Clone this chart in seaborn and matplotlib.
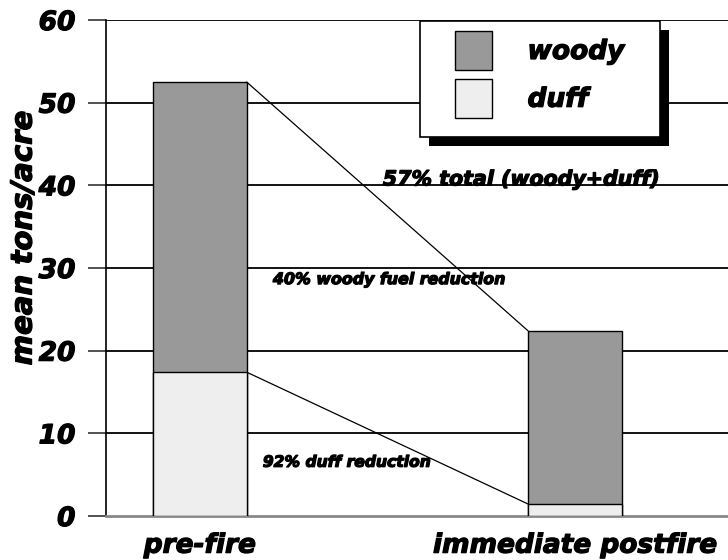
import matplotlib
matplotlib.use("Agg")
import matplotlib.pyplot as plt
from matplotlib.patches import Rectangle, Patch
import matplotlib.patheffects as pe
import seaborn as sns
import pandas as pd

# Fuel loading before and right after the burn (mean tons/acre)
stages = ["pre-fire", "immediate postfire"]
duff = [17.4, 1.45]
woody = [35.1, 20.95]
totals = [d + w for d, w in zip(duff, woody)]

woody_color = "#999999"
duff_color = "#eeeeee"

sns.set_theme(style="white")
plt.rcParams["font.family"] = ["DejaVu Sans"]
plt.rcParams.update({"text.color": "black", "axes.labelcolor": "black",
                     "xtick.color": "black", "ytick.color": "black"})

heavy = [pe.withStroke(linewidth=0.9, foreground="black")]

fig = plt.figure(figsize=(7.28, 5.6), dpi=100)
ax = fig.add_axes([106 / 728, 1 - 516 / 560, 1 - 106 / 728, (516 - 20) / 560])

df = pd.DataFrame({"stage": stages, "total": totals, "duff": duff})
bar_w = 0.25
sns.barplot(data=df, x="stage", y="total", color=woody_color, width=bar_w,
            edgecolor="black", linewidth=1, saturation=1, ax=ax, zorder=3)
sns.barplot(data=df, x="stage", y="duff", color=duff_color, width=bar_w,
            edgecolor="black", linewidth=1, saturation=1, ax=ax, zorder=3)

ax.set_xlim(-0.25, 1.408)
ax.set_ylim(0, 60)

# horizontal rules at each tick
for v in range(10, 61, 10):
    ax.axhline(v, color="black", lw=1.3, zorder=1)

for s in ["top", "right"]:
    ax.spines[s].set_visible(False)
ax.spines["left"].set_color("black")
ax.spines["left"].set_linewidth(1.2)
ax.spines["bottom"].set_color("#888888")
ax.spines["bottom"].set_linewidth(2)

ax.tick_params(axis="y", which="major", direction="out", length=13, width=1.2,
               color="#333333", left=True, pad=9)
ax.tick_params(axis="x", length=0, pad=12)

tick_font = dict(fontsize=19, fontweight="bold", fontstyle="italic")
ax.set_yticks(range(0, 61, 10), [str(v) for v in range(0, 61, 10)], **tick_font)
ax.set_xticks([0, 1], stages, **tick_font)
for t in ax.get_xticklabels() + ax.get_yticklabels():
    t.set_path_effects(heavy)
ax.set_xlabel("")
ax.set_ylabel("mean tons/acre", fontsize=21, fontweight="bold",
              fontstyle="italic", path_effects=heavy)
ax.yaxis.set_label_coords(-0.11, 0.56)

# connector lines between bar tops
half = bar_w / 2
ax.plot([0 + half, 1 - half], [totals[0], totals[1]], color="black", lw=0.9, zorder=2)
ax.plot([0 + half, 1 - half], [duff[0], duff[1]], color="black", lw=0.9, zorder=2)

note = dict(fontweight="bold", fontstyle="italic", color="black", zorder=4,
            path_effects=heavy)
ax.text(0.488, 40.0, "57% total (woody+duff)", fontsize=14.8, va="baseline", **note)
ax.text(0.195, 28.6, "40% woody fuel reduction", fontsize=11.4, va="center", **note)
ax.text(0.168, 6.5, "92% duff reduction", fontsize=11.2, va="center", **note)

# legend box with a solid drop shadow
W, H = 728, 560
lx0, ly0, lx1, ly1 = 420, 21, 660, 137
off = 9
fig.patches.append(Rectangle(((lx0 + off) / W, 1 - (ly1 + off) / H),
                             (lx1 - lx0) / W, (ly1 - ly0) / H,
                             transform=fig.transFigure, facecolor="black",
                             edgecolor="none", zorder=5))
fig.patches.append(Rectangle((lx0 / W, 1 - ly1 / H), (lx1 - lx0) / W, (ly1 - ly0) / H,
                             transform=fig.transFigure, facecolor="white",
                             edgecolor="black", lw=1.2, zorder=6))
handles = [Patch(facecolor=woody_color, edgecolor="black", lw=1, label="woody"),
           Patch(facecolor=duff_color, edgecolor="black", lw=1, label="duff")]
leg = fig.legend(handles=handles, loc="upper left",
                 bbox_to_anchor=(455 / W, 1 - 31 / H), frameon=False,
                 borderpad=0, borderaxespad=0,
                 prop=dict(family="DejaVu Sans", weight="bold", style="italic", size=19),
                 handlelength=1.4, handleheight=1.9, labelspacing=0.33,
                 handletextpad=1.35)
for t in leg.get_texts():
    t.set_path_effects(heavy)
leg.set_zorder(7)

fig.savefig("out.png", dpi=100)
